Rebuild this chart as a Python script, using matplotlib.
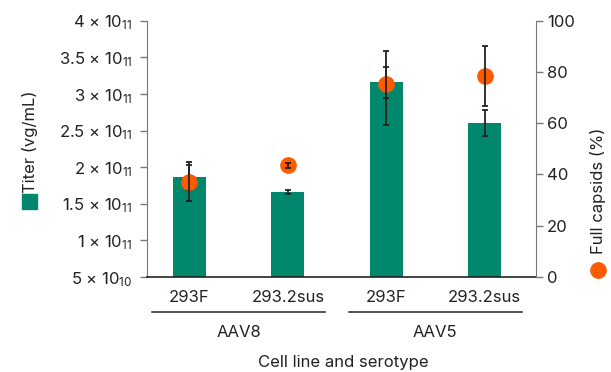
import matplotlib
matplotlib.use("Agg")
import matplotlib.pyplot as plt
from matplotlib.patches import Rectangle
from matplotlib.lines import Line2D
import matplotlib.transforms as mtransforms

plt.rcParams['font.family'] = ['Inter', 'DejaVu Sans']
plt.rcParams['mathtext.fontset'] = 'custom'
plt.rcParams['mathtext.rm'] = 'Inter'
plt.rcParams['mathtext.it'] = 'Inter'

# ---- data ----
cell_lines = ["293F", "293.2sus", "293F", "293.2sus"]
serotypes = ["AAV8", "AAV5"]
titer = [1.86e11, 1.66e11, 3.16e11, 2.60e11]
titer_err = [1.7e10, 3.0e9, 2.1e10, 1.8e10]
full_pct = [37.2, 43.6, 75.4, 78.5]
full_err_low = [7.5, 1.0, 16.0, 11.6]
full_err_high = [7.5, 1.0, 12.7, 11.6]
left_ticks = [5e10, 1e11, 1.5e11, 2e11, 2.5e11, 3e11, 3.5e11, 4e11]
left_tick_labels = ["5 × 10$_{\\mathregular{10}}$", "1 × 10$_{\\mathregular{11}}$",
                    "1.5 × 10$_{\\mathregular{11}}$", "2 × 10$_{\\mathregular{11}}$",
                    "2.5 × 10$_{\\mathregular{11}}$", "3 × 10$_{\\mathregular{11}}$",
                    "3.5 × 10$_{\\mathregular{11}}$", "4 × 10$_{\\mathregular{11}}$"]
right_ticks = [0, 20, 40, 60, 80, 100]

GREEN = "#00876C"
ORANGE = "#FF5A00"
FS = 12

fig = plt.figure(figsize=(6.11, 3.72), dpi=100)
W, H = 611, 372
ax = fig.add_axes([146.7 / W, 1 - 277 / H, (535.7 - 146.7) / W, (277 - 20.7) / H])
x = list(range(len(cell_lines)))
ax.bar(x, titer, width=0.336, color=GREEN, zorder=2)
ax.errorbar(x, titer, yerr=titer_err, fmt="none", ecolor="#222222",
            elinewidth=1.3, capsize=2.2, capthick=1.3, zorder=3)
ax.set_xlim(-0.435, 3.52)
ax.set_ylim(5e10, 4e11)
ax.set_yticks(left_ticks)
ax.set_yticklabels(left_tick_labels)
ax.set_xticks(x)
ax.set_xticklabels(cell_lines)
ax.tick_params(axis='x', length=0, pad=9, labelsize=FS, colors="#222222")
ax.tick_params(axis='y', length=5, width=1, color="#777777", labelsize=FS,
               labelcolor="#222222", pad=5.5)
for s in ["top", "right"]:
    ax.spines[s].set_visible(False)
ax.spines["left"].set_color("#777777")
ax.spines["bottom"].set_color("#222222")
ax.spines["bottom"].set_linewidth(1.2)

ax2 = ax.twinx()
ax2.plot(x, full_pct, "o", color=ORANGE, markersize=11, zorder=3)
ax2.errorbar(x, full_pct, yerr=[full_err_low, full_err_high], fmt="none",
             ecolor="#222222", elinewidth=1.3, capsize=2.2, capthick=1.3, zorder=4)
ax2.set_ylim(0, 100)
ax2.set_yticks(right_ticks)
ax2.tick_params(axis='y', length=5, width=1, color="#777777", labelsize=FS,
                labelcolor="#222222", pad=3)
for s in ["top", "left", "bottom"]:
    ax2.spines[s].set_visible(False)
ax2.spines["right"].set_color("#777777")

# group annotations
trans = mtransforms.blended_transform_factory(ax.transData, ax.transAxes)
for gi, name in enumerate(serotypes):
    c = 0.5 + 2 * gi
    ax.add_line(Line2D([c - 0.88, c + 0.88], [-0.138, -0.138], transform=trans,
                       color="#222222", lw=1.1, clip_on=False))
    ax.text(c, -0.215, name, transform=trans, ha="center", va="center",
            fontsize=FS, color="#222222")
ax.text(1.56, -0.334, "Cell line and serotype", transform=trans, ha="center",
        va="center", fontsize=FS, color="#222222")

# legend-like axis labels
fig.patches.append(Rectangle((22 / W, 1 - 209 / H), 15 / W, 15 / H,
                             transform=fig.transFigure, color=GREEN))
fig.text(29.5 / W, 1 - 142 / H, "Titer (vg/mL)", rotation=90, ha="center",
         va="center", fontsize=FS, color="#222222")
fig.add_artist(Line2D([598 / W], [1 - 270 / H], marker="o", markersize=11,
                      color=ORANGE, transform=fig.transFigure))
fig.text(598 / W, 1 - 191 / H, "Full capsids (%)", rotation=90, ha="center",
         va="center", fontsize=FS, color="#222222")

fig.savefig("out.png", dpi=100)
